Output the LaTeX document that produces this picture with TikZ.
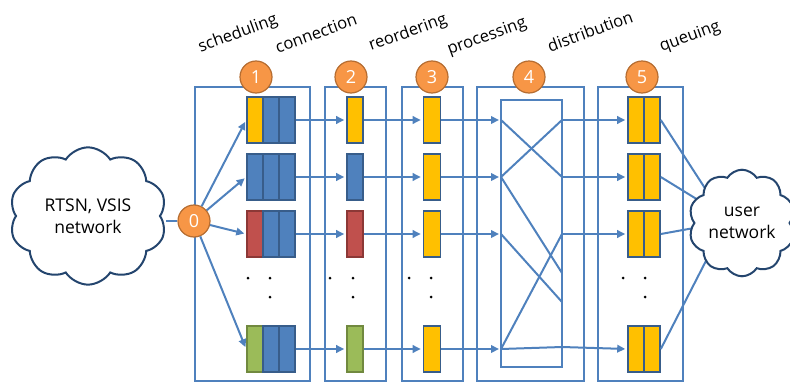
\documentclass[tikz,border=0pt]{standalone}
\usepackage{fontspec}
\setmainfont{Open Sans}
\usetikzlibrary{shapes.symbols,arrows.meta}
\definecolor{lineblue}{HTML}{4F81BD}
\definecolor{qblue}{HTML}{4F81BD}
\definecolor{qedge}{HTML}{385D8A}
\definecolor{qyellow}{HTML}{FFC000}
\definecolor{qred}{HTML}{C0504D}
\definecolor{qrededge}{HTML}{8C3836}
\definecolor{qgreen}{HTML}{9BBB59}
\definecolor{qgreenedge}{HTML}{71893F}
\definecolor{corange}{HTML}{F79646}
\definecolor{corangeedge}{HTML}{B66D31}
\definecolor{cloudedge}{HTML}{24456E}
\tikzset{
  frame/.style={draw=lineblue, line width=2pt},
  cell/.style={draw=qedge, line width=1.6pt, minimum width=16pt, minimum height=46pt, inner sep=0pt},
  ycell/.style={cell, fill=qyellow},
  bcell/.style={cell, fill=qblue},
  rcell/.style={cell, fill=qred, draw=qrededge},
  gcell/.style={cell, fill=qgreen, draw=qgreenedge},
  numc/.style={circle, fill=corange, draw=corangeedge, line width=1.2pt, minimum size=32pt, inner sep=0pt, text=white, font=\fontsize{18}{18}\selectfont},
  flow/.style={draw=lineblue, line width=2pt, -{Triangle[length=8pt,width=7.5pt]}, shorten >=2pt},
  wire/.style={draw=lineblue, line width=2pt},
  lab/.style={rotate=20, inner sep=0pt, font=\fontsize{16.5}{19}\selectfont},
  dotn/.style={circle, fill=black, inner sep=0pt, minimum size=3pt},
  cloudn/.style={cloud, cloud puffs=10, cloud puff arc=115, draw=cloudedge, line width=2pt, fill=white, inner sep=0pt, align=center, font=\fontsize{17.5}{22}\selectfont}
}
\begin{document}
\begin{tikzpicture}[x=1pt, y=-1pt]
\useasboundingbox (0,0) rectangle (790,383);
% frames
\draw[frame] (195,87) rectangle (310,381);
\draw[frame] (325,87) rectangle (386,381);
\draw[frame] (402,87) rectangle (463,381);
\draw[frame] (477,87) rectangle (584,381);
\draw[frame] (598,87) rectangle (683,381);
\draw[frame] (501,100) rectangle (562,367);
% labels
\node[lab] (lsch) at (238,34) {scheduling};
\node[lab] (lcon) at (316,33) {connection};
\node[lab] (lreo) at (408,33) {reordering};
\node[lab] (lpro) at (487,37) {processing};
\node[lab] (ldis) at (590,31) {distribution};
\node[lab] (lque) at (690,37) {queuing};
% stage 1 blocks
\node[ycell] (a1) at (255,120) {};
\node[bcell] (b1) at (271,120) {};
\node[bcell] (c1) at (287,120) {};
\node[bcell] (a2) at (255,177) {};
\node[bcell] (b2) at (271,177) {};
\node[bcell] (c2) at (287,177) {};
\node[rcell] (a3) at (255,234) {};
\node[bcell] (b3) at (271,234) {};
\node[bcell] (c3) at (287,234) {};
\node[gcell] (a5) at (255,349) {};
\node[bcell] (b5) at (271,349) {};
\node[bcell] (c5) at (287,349) {};
% stage 2
\node[ycell] (s2r1) at (355,120) {};
\node[bcell] (s2r2) at (355,177) {};
\node[rcell] (s2r3) at (355,234) {};
\node[gcell] (s2r5) at (355,349) {};
% stage 3
\node[ycell, minimum width=17pt] (s3r1) at (432,120) {};
\node[ycell, minimum width=17pt] (s3r2) at (432,177) {};
\node[ycell, minimum width=17pt] (s3r3) at (432,234) {};
\node[ycell, minimum width=17pt] (s3r5) at (432,349) {};
% stage 5
\node[ycell] (p1) at (636,120) {};
\node[ycell] (q1) at (652,120) {};
\node[ycell] (p2) at (636,177) {};
\node[ycell] (q2) at (652,177) {};
\node[ycell] (p3) at (636,234) {};
\node[ycell] (q3) at (652,234) {};
\node[ycell] (p5) at (636,349) {};
\node[ycell] (q5) at (652,349) {};
% distribution points
\coordinate (i1) at (501,120);
\coordinate (i2) at (501,177);
\coordinate (i3) at (501,234);
\coordinate (i5) at (501,349);
\coordinate (o1) at (562,120);
\coordinate (o2) at (562,177);
\coordinate (o3) at (562,234);
\coordinate (o5) at (562,347);
\coordinate (ox) at (562,273);
\coordinate (oy) at (562,302);
% arrows 1->2
\draw[flow] (c1.east) -- (s2r1.west);
\draw[flow] (c2.east) -- (s2r2.west);
\draw[flow] (c3.east) -- (s2r3.west);
\draw[flow] (c5.east) -- (s2r5.west);
% arrows 2->3
\draw[flow] (s2r1.east) -- (s3r1.west);
\draw[flow] (s2r2.east) -- (s3r2.west);
\draw[flow] (s2r3.east) -- (s3r3.west);
\draw[flow] (s2r5.east) -- (s3r5.west);
% arrows 3->dist
\draw[flow] (s3r1.east) -- (i1);
\draw[flow] (s3r2.east) -- (i2);
\draw[flow] (s3r3.east) -- (i3);
\draw[flow] (s3r5.east) -- (i5);
% crossings
\draw[wire] (i1) -- (o2);
\draw[wire] (i2) -- (o1);
\draw[wire] (i2) -- (ox);
\draw[wire] (i3) -- (oy);
\draw[wire] (i5) -- (o3);
\draw[wire] (i5) -- (o5);
% dist -> stage 5
\draw[flow] (o1) -- (p1.west);
\draw[flow] (o2) -- (p2.west);
\draw[flow] (o3) -- (p3.west);
\draw[flow] (o5) -- (p5.west);
% stage 5 -> user network
\coordinate (u1) at (710,196);
\coordinate (u2) at (703,203);
\coordinate (u3) at (694,228);
\coordinate (u5) at (710,253);
\draw[wire] (q1.east) -- (u1);
\draw[wire] (q2.east) -- (u2);
\draw[wire] (q3.east) -- (u3);
\draw[wire] (q5.east) -- (u5);
% circle 0 and its arrows
\node[numc] (c0) at (194,221) {0};
\draw[flow] (c0) -- (a1.west);
\draw[flow] (c0) -- (a2.west);
\draw[flow] (c0) -- (a3.west);
\draw[flow] (c0) -- (a5.west);
% clouds
\node[cloudn, minimum width=157pt, minimum height=80pt] (lcloud) at (88,216) {RTSN, VSIS\\network};
\node[cloudn, minimum width=97pt, minimum height=77pt] (ucloud) at (742,223) {user\\network};
\coordinate (lce) at (166,221);
\draw[wire] (lce) -- (c0);
% numbered circles
\node[numc] (n1) at (256,77) {1};
\node[numc] (n2) at (351,77) {2};
\node[numc] (n3) at (432,77) {3};
\node[numc] (n4) at (529,77) {4};
\node[numc] (n5) at (642,77) {5};
% dots
\node[dotn] (d1a) at (248,278) {};
\node[dotn] (d1b) at (270,278) {};
\node[dotn] (d1c) at (270,297) {};
\node[dotn] (d2a) at (330,278) {};
\node[dotn] (d2b) at (353,278) {};
\node[dotn] (d2c) at (353,297) {};
\node[dotn] (d3a) at (409,278) {};
\node[dotn] (d3b) at (431,278) {};
\node[dotn] (d3c) at (431,297) {};
\node[dotn] (d5a) at (623,278) {};
\node[dotn] (d5b) at (645,278) {};
\node[dotn] (d5c) at (645,297) {};
\end{tikzpicture}
\end{document}
